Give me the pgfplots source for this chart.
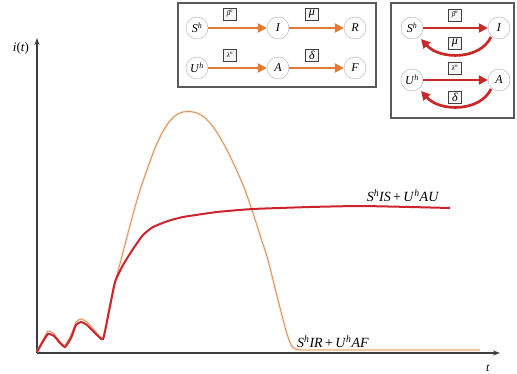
\documentclass[border=0pt]{standalone}
\usepackage{pgfplots}
\pgfplotsset{compat=1.18}
\usepackage{fontspec}
\setmainfont{Liberation Serif}
\usetikzlibrary{arrows.meta}
\definecolor{axisgray}{RGB}{60,60,60}
\definecolor{curvered}{RGB}{205,35,45}
\definecolor{curveorange}{RGB}{205,145,100}
\definecolor{glow}{RGB}{252,215,180}
\definecolor{flowor}{RGB}{228,122,48}
\definecolor{flowred}{RGB}{200,40,40}
\definecolor{nodeline}{RGB}{165,175,190}
\definecolor{framegray}{RGB}{90,90,90}

\newcommand\Sh{\textit{S}\textsuperscript{\textit{h}}}
\newcommand\Uh{\textit{U}\textsuperscript{\textit{h}}}

% susceptible-infected-susceptible trajectory (thick red)
\pgfplotstableread{
x y
0 1
5 10
11 19
17 17
23 10
28 6
34 15
39 28
44 31
50 28
58 20
66 14
72 42
78 71
86 88
96 104
106 118
116 126
131 132
146 136
180 141
216 144
273 146
323 147
373 146
413 145
}\sisdata

% susceptible-infected-recovered trajectory (thin orange)
\pgfplotstableread{
x y
0 1
5 11
11 22
17 19
23 11
28 8
34 18
39 31
44 34
50 31
58 22
66 15
72 42
78 70
85 97
91 120
98 146
104 166
111 186
118 205
125 220
132 231
139 238
146 241
153 241.5
160 240
167 236
174 229
181 219
190 203
200 182
208 163
215 143
223 118
231 93
241 53
248 26
252 13
255 6.5
259 3.8
266 3
300 3
443 3
}\sirdata

\begin{document}
\begin{tikzpicture}[x=1pt,y=1pt]
\useasboundingbox (0,0) rectangle (517,373);
\begin{axis}[
  at={(37pt,20pt)}, anchor=south west,
  scale only axis, width=463pt, height=315pt,
  xmin=0, xmax=463, ymin=0, ymax=315,
  axis lines=left,
  axis line style={axisgray, line width=1.2pt, -{Stealth[length=7pt,width=5pt]}},
  xtick=\empty, ytick=\empty,
  clip=false,
]
\addplot[glow, line width=2.6pt, opacity=0.6, smooth, tension=0.3] table {\sirdata};
\addplot[curveorange, line width=0.8pt, smooth, tension=0.3] table {\sirdata};
\addplot[curvered, line width=2pt, smooth, tension=0.3] table {\sisdata};
\end{axis}

% axis labels and curve labels
\node[font=\fontsize{13}{15}\selectfont] at (21,325) {\textit{i}(\textit{t})};
\node[font=\fontsize{12}{14}\selectfont] at (488,5) {\textit{t}};
\node[font=\fontsize{14}{16}\selectfont] at (403,177) {\Sh\textit{IS}\,+\,\Uh\textit{AU}};
\node[font=\fontsize{14}{16}\selectfont] at (333,31) {\Sh\textit{IR}\,+\,\Uh\textit{AF}};

% compartment diagrams
\begin{scope}[shift={(0pt,373pt)}, y=-1pt,
  comp/.style={circle, draw=nodeline, fill=white, minimum size=22pt, inner sep=0pt, font=\fontsize{12}{12}\selectfont},
  rate/.style={draw=black!75, fill=black!4, inner sep=1pt, minimum width=13pt, minimum height=12pt, font=\fontsize{12}{12}\selectfont},
  small/.style={rate, font=\fontsize{7}{7}\selectfont},
  flowA/.style={flowor, line width=2.7pt, -{Triangle[length=9pt,width=9pt]}},
  flowB/.style={flowred, line width=2.7pt, -{Triangle[length=9pt,width=9pt]}}]
  % SIR / UAF
  \draw[framegray, line width=1.3pt] (178,3) rectangle (376,87);
  \node[comp] (S1) at (197,28) {\Sh};
  \node[comp] (I1) at (278,28) {\textit{I}};
  \node[comp] (R1) at (355,28) {\textit{R}};
  \node[comp] (U1) at (197,68) {\Uh};
  \node[comp] (A1) at (278,68) {\textit{A}};
  \node[comp] (F1) at (355,68) {\textit{F}};
  \draw[flowA] (S1) -- (I1);
  \draw[flowA] (I1) -- (R1);
  \draw[flowA] (U1) -- (A1);
  \draw[flowA] (A1) -- (F1);
  \node[small] at (230,14) {\textit{β}\textsuperscript{\textit{n}}};
  \node[rate] at (312,14) {\textit{μ}};
  \node[small] at (230,55) {\textit{λ}\textsuperscript{\textit{n}}};
  \node[rate] at (312,55) {\textit{δ}};
  % SIS / UAU
  \draw[framegray, line width=1.3pt] (391,3) rectangle (514,118);
  \node[comp] (S2) at (412,28) {\Sh};
  \node[comp] (I2) at (499,28) {\textit{I}};
  \node[comp] (U2) at (412,80) {\Uh};
  \node[comp] (A2) at (499,80) {\textit{A}};
  \draw[flowB] (S2) -- (I2);
  \draw[flowB] (U2) -- (A2);
  \draw[flowB] (491,37) .. controls (480,60) and (440,60) .. (421,39);
  \draw[flowB] (491,89) .. controls (480,112) and (440,112) .. (421,91);
  \node[small] at (455,15) {\textit{β}\textsuperscript{\textit{n}}};
  \node[rate] at (455,43) {\textit{μ}};
  \node[small] at (455,68) {\textit{λ}\textsuperscript{\textit{n}}};
  \node[rate] at (455,97) {\textit{δ}};
\end{scope}
\end{tikzpicture}
\end{document}
